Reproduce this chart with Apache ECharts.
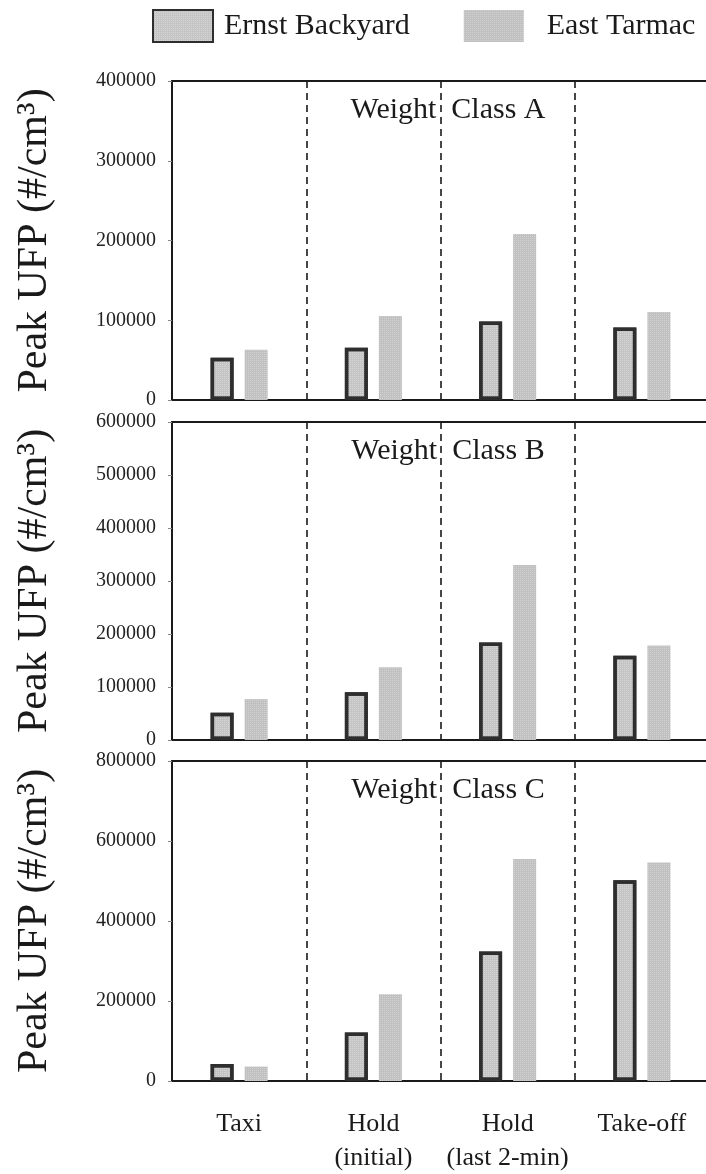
<!DOCTYPE html>
<html>
<head>
<meta charset="utf-8">
<script src="https://cdn.jsdelivr.net/npm/echarts@6/dist/echarts.min.js"></script>
<style>
  html, body { margin: 0; padding: 0; background: #fff; }
  #ufp { width: 706px; height: 1174px; }
</style>
</head>
<body>
<div id="ufp"></div>
<script>
// 阶段分类
const categories = ['Taxi', 'Hold\n(initial)', 'Hold\n(last 2-min)', 'Take-off']
// Weight Class A
const ernstA = [53000, 65600, 98400, 90900]
const eastA = [63100, 105200, 208000, 110200]
// Weight Class B
const ernstB = [51400, 90000, 184000, 159000]
const eastB = [77100, 137500, 330000, 178500]
// Weight Class C
const ernstC = [42600, 121000, 324000, 502000]
const eastC = [36000, 217000, 555000, 546000]

const yMax = [400000, 600000, 800000]
const yStep = [100000, 100000, 200000]
const panelTitles = ['Weight  Class A', 'Weight  Class B', 'Weight  Class C']

const font = 'Liberation Serif'
const ink = '#1a1a1a'

// 柱子上的细点纹理
const stipple = {
  symbol: 'rect',
  symbolSize: 1,
  color: 'rgba(255,255,255,0.3)',
  dashArrayX: [1, 1],
  dashArrayY: [1, 1]
}

function initEcharts () {
  const chart = echarts.init(document.getElementById('ufp'))

  // right 为负值：最右侧的分隔虚线落在画布外
  const grids = [
    { left: 172, right: -3, top: 81, height: 319, outerBoundsMode: 'none' },
    { left: 172, right: -3, top: 422, height: 318, outerBoundsMode: 'none' },
    { left: 172, right: -3, top: 761, height: 320, outerBoundsMode: 'none' }
  ]
  const titleTops = [95, 436, 775]

  let xAxis = []
  let yAxis = []
  let series = []
  let title = []
  const groups = [[ernstA, eastA], [ernstB, eastB], [ernstC, eastC]]

  grids.forEach((g, i) => {
    // 底部类目轴
    xAxis.push({
      type: 'category',
      gridIndex: i,
      data: categories,
      boundaryGap: true,
      axisLine: { lineStyle: { color: ink, width: 2 } },
      axisTick: { show: false },
      axisLabel: {
        show: i === 2,
        interval: 0,
        margin: 26,
        fontFamily: font,
        fontSize: 26,
        lineHeight: 34,
        color: ink
      },
      splitLine: {
        show: true,
        interval: 0,
        lineStyle: { color: ink, width: 1.6, type: [7, 5] }
      }
    })
    // 顶部边框线
    xAxis.push({
      type: 'category',
      gridIndex: i,
      position: 'top',
      data: categories,
      axisLine: { lineStyle: { color: ink, width: 2 } },
      axisTick: { show: false },
      axisLabel: { show: false },
      splitLine: { show: false }
    })
    yAxis.push({
      type: 'value',
      gridIndex: i,
      min: 0,
      max: yMax[i],
      interval: yStep[i],
      name: 'Peak UFP (#/cm³)',
      nameLocation: 'middle',
      nameRotate: 90,
      nameGap: 116,
      nameTextStyle: { fontFamily: font, fontSize: 42, color: ink },
      axisLine: { show: true, lineStyle: { color: ink, width: 2 } },
      axisTick: { show: true, length: 4, lineStyle: { color: '#888' } },
      axisLabel: {
        margin: 16,
        fontFamily: font,
        fontSize: 20,
        color: '#222',
        formatter: (v) => String(v)
      },
      splitLine: { show: false }
    })
    series.push({
      name: 'Ernst Backyard',
      type: 'bar',
      xAxisIndex: i * 2,
      yAxisIndex: i,
      data: groups[i][0],
      barWidth: 23,
      barGap: '48%',
      itemStyle: { color: '#c4c4c4', borderColor: '#2e2e2e', borderWidth: 3.5, decal: stipple }
    })
    series.push({
      name: 'East Tarmac',
      type: 'bar',
      xAxisIndex: i * 2,
      yAxisIndex: i,
      data: groups[i][1],
      barWidth: 23,
      itemStyle: { color: '#c0c0c0', decal: stipple }
    })
    title.push({
      text: panelTitles[i],
      left: 448,
      top: titleTops[i],
      textAlign: 'center',
      padding: 0,
      textStyle: { fontFamily: font, fontSize: 30, fontWeight: 'normal', color: ink }
    })
  })

  let option = {
    animation: false,
    backgroundColor: '#fff',
    title: title,
    legend: {
      top: 9,
      left: 152,
      padding: 0,
      icon: 'rect',
      itemWidth: 60,
      itemHeight: 32,
      itemGap: 54,
      data: [
        { name: 'Ernst Backyard' },
        { name: 'East Tarmac', textStyle: { padding: [0, 0, 0, 18] } }
      ],
      textStyle: { fontFamily: font, fontSize: 30, color: ink, padding: [0, 0, 0, 6] }
    },
    grid: grids,
    xAxis: xAxis,
    yAxis: yAxis,
    series: series
  }
  chart.setOption(option)
}

initEcharts()
</script>
</body>
</html>
